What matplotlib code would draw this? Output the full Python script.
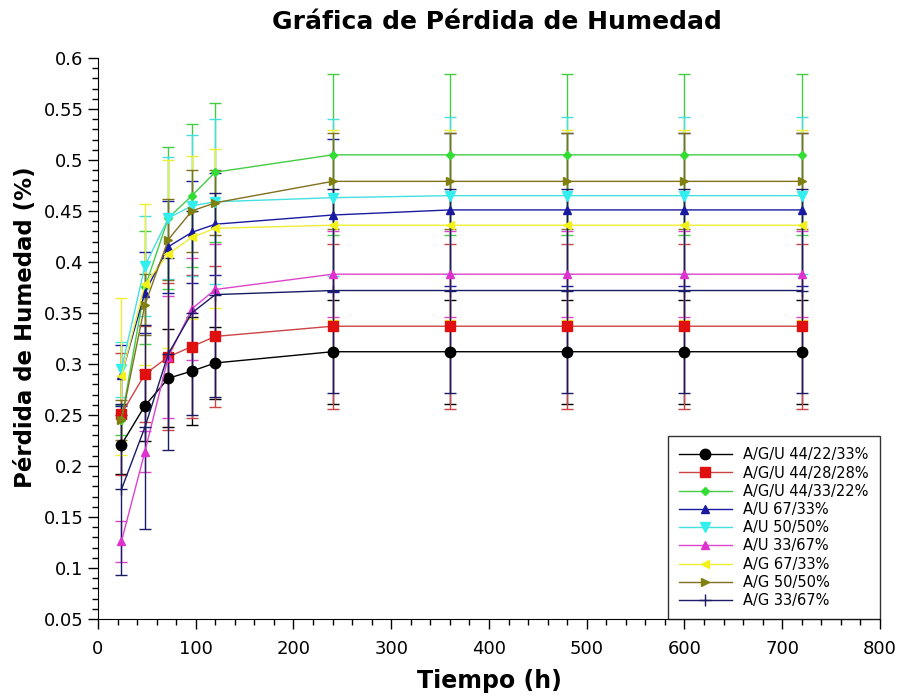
import numpy as np
import matplotlib.pyplot as plt
from matplotlib.ticker import MultipleLocator

# tiempo de secado (h)
tiempo = [24, 48, 72, 96, 120, 240, 360, 480, 600, 720]

etiquetas = ['A/G/U 44/22/33%', 'A/G/U 44/28/28%', 'A/G/U 44/33/22%',
             'A/U 67/33%', 'A/U 50/50%', 'A/U 33/67%',
             'A/G 67/33%', 'A/G 50/50%', 'A/G 33/67%']

# perdida de humedad promedio por formulacion
agu_44_22_33 = [0.221, 0.259, 0.286, 0.293, 0.301, 0.312, 0.312, 0.312, 0.312, 0.312]
agu_44_28_28 = [0.251, 0.290, 0.307, 0.317, 0.327, 0.337, 0.337, 0.337, 0.337, 0.337]
agu_44_33_22 = [0.245, 0.375, 0.443, 0.465, 0.488, 0.505, 0.505, 0.505, 0.505, 0.505]
au_67_33 = [0.289, 0.370, 0.415, 0.429, 0.437, 0.446, 0.451, 0.451, 0.451, 0.451]
au_50_50 = [0.295, 0.396, 0.443, 0.455, 0.459, 0.463, 0.465, 0.465, 0.465, 0.465]
au_33_67 = [0.126, 0.214, 0.307, 0.354, 0.373, 0.388, 0.388, 0.388, 0.388, 0.388]
ag_67_33 = [0.288, 0.378, 0.408, 0.424, 0.433, 0.436, 0.436, 0.436, 0.436, 0.436]
ag_50_50 = [0.245, 0.358, 0.422, 0.450, 0.458, 0.479, 0.479, 0.479, 0.479, 0.479]
ag_33_67 = [0.177, 0.238, 0.310, 0.350, 0.368, 0.372, 0.372, 0.372, 0.372, 0.372]

# desviacion estandar
err_agu_44_22_33 = [0.029, 0.035, 0.048, 0.053, 0.035, 0.051, 0.051, 0.051, 0.051, 0.051]
err_agu_44_28_28 = [0.060, 0.047, 0.072, 0.070, 0.069, 0.081, 0.081, 0.081, 0.081, 0.081]
err_agu_44_33_22 = [0.015, 0.055, 0.070, 0.070, 0.068, 0.079, 0.079, 0.079, 0.079, 0.079]
err_au_67_33 = [0.030, 0.040, 0.045, 0.050, 0.050, 0.075, 0.075, 0.075, 0.075, 0.075]
err_au_50_50 = [0.027, 0.049, 0.060, 0.069, 0.081, 0.077, 0.077, 0.077, 0.077, 0.077]
err_au_33_67 = [0.020, 0.020, 0.060, 0.050, 0.045, 0.042, 0.042, 0.042, 0.042, 0.042]
err_ag_67_33 = [0.077, 0.079, 0.092, 0.080, 0.078, 0.093, 0.093, 0.093, 0.093, 0.093]
err_ag_50_50 = [0.020, 0.030, 0.040, 0.040, 0.032, 0.047, 0.047, 0.047, 0.047, 0.047]
err_ag_33_67 = [0.084, 0.100, 0.094, 0.100, 0.100, 0.100, 0.100, 0.100, 0.100, 0.100]

series = [agu_44_22_33, agu_44_28_28, agu_44_33_22, au_67_33, au_50_50,
          au_33_67, ag_67_33, ag_50_50, ag_33_67]
errores = [err_agu_44_22_33, err_agu_44_28_28, err_agu_44_33_22, err_au_67_33,
           err_au_50_50, err_au_33_67, err_ag_67_33, err_ag_50_50, err_ag_33_67]

colores = ['#000000', '#e01010', '#33dd33', '#1a1aa0', '#33eeee',
           '#dd33cc', '#f2f21a', '#808010', '#1a1a66']
lineas = ['#000000', '#cc4444', '#44cc44', '#1a1aa0', '#44e0e0',
          '#dd44cc', '#eeee33', '#807020', '#1a1a66']
marcadores = ['o', 's', 'D', '^', 'v', '^', '<', '>', '+']
tamanos = [7.5, 7, 4.5, 5.5, 6.5, 6, 6, 6, 8]

fig = plt.figure(figsize=(9.03, 6.98), dpi=100)
ax = fig.add_axes([0.1085, 0.1132, 0.866, 0.8038])

lineas_leyenda = []
for i in range(len(series)):
    eb = ax.errorbar(tiempo, series[i], yerr=errores[i], color=lineas[i],
                     ecolor=lineas[i], elinewidth=1, capsize=4, capthick=1,
                     linewidth=1.0, marker=marcadores[i], markersize=tamanos[i],
                     markerfacecolor=colores[i], markeredgecolor=colores[i])
    lineas_leyenda.append(eb[0])

ax.set_xlim(0, 800)
ax.set_ylim(0.05, 0.6)
ax.xaxis.set_major_locator(MultipleLocator(100))
ax.xaxis.set_minor_locator(MultipleLocator(20))
ax.yaxis.set_minor_locator(MultipleLocator(0.01))
ax.set_yticks(np.arange(0.05, 0.601, 0.05))
ax.set_yticklabels(['0.05', '0.1', '0.15', '0.2', '0.25', '0.3', '0.35',
                    '0.4', '0.45', '0.5', '0.55', '0.6'])
ax.tick_params(which='major', direction='out', length=7, width=1, labelsize=13)
ax.tick_params(axis='x', which='major', pad=8)
ax.tick_params(which='minor', direction='out', length=4, width=1)
ax.spines['top'].set_visible(False)
ax.spines['right'].set_visible(False)

ax.set_xlabel('Tiempo (h)', fontsize=17, fontweight='bold', labelpad=8)
ax.set_ylabel('Pérdida de Humedad (%)', fontsize=16.5, fontweight='bold')
ax.yaxis.set_label_coords(-0.078, 0.52)
ax.set_title('Gráfica de Pérdida de Humedad', fontsize=18, fontweight='bold',
             pad=21, x=0.51)

leg = ax.legend(lineas_leyenda, etiquetas, loc='lower right', fontsize=10.5,
                frameon=True, fancybox=False, edgecolor='black', borderaxespad=0,
                handlelength=3.6, handletextpad=0.8, labelspacing=0.22,
                borderpad=0.75)
leg.get_frame().set_linewidth(1)

plt.savefig('out.png', dpi=100)
